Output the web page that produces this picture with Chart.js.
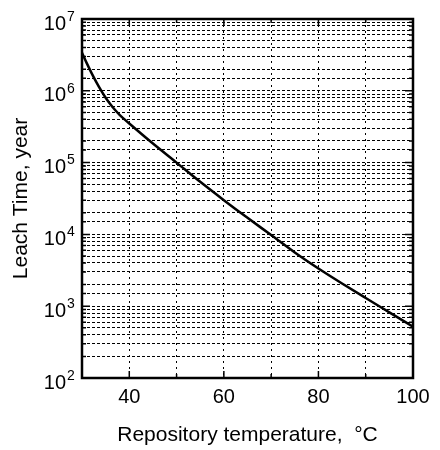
<!DOCTYPE html>
<html>
<head>
<meta charset="utf-8">
<script src="https://cdn.jsdelivr.net/npm/chart.js@4/dist/chart.umd.min.js"></script>
<style>
  html, body { margin: 0; padding: 0; background: #fff; }
  #wrap { width: 440px; height: 450px; }
</style>
</head>
<body>
<div id="wrap"><canvas id="leach" width="440" height="450"></canvas></div>
<script>
// ------- Data -------
const temperatures = [30, 31, 32, 33, 34, 35, 36, 37, 38, 39, 40, 45, 50, 55, 60, 65, 70, 75, 80, 85, 90, 95, 100];
const leachYears = [3.39e6, 2.43e6, 1.78e6, 1.33e6, 1.02e6, 8.0e5, 6.5e5, 5.4e5, 4.6e5, 4.0e5, 3.5e5, 1.84e5, 1.0e5, 5.4e4, 3.0e4, 1.7e4, 9.8e3, 5.6e3, 3.35e3, 2.07e3, 1.3e3, 822, 519];
const xTickLabels = [40, 60, 80, 100];
const yDecadeExponents = [2, 3, 4, 5, 6, 7];

const FONT = '"Liberation Sans", Arial, Helvetica, sans-serif';

function isDecade(v) {
  const l = Math.log10(v);
  return Math.abs(l - Math.round(l)) < 1e-9;
}

// frame, inward tick marks and 10^n labels
const framePlugin = {
  id: 'frame',
  afterDraw(chart) {
    const { ctx, chartArea: a, scales } = chart;
    const xs = scales.x, ys = scales.y;
    ctx.save();
    ctx.strokeStyle = '#000';
    ctx.lineWidth = 1.5;
    ctx.beginPath();
    ys.ticks.forEach(t => {
      const py = ys.getPixelForValue(t.value);
      const len = isDecade(t.value) ? 8 : 4;
      ctx.moveTo(a.left, py); ctx.lineTo(a.left + len, py);
      ctx.moveTo(a.right, py); ctx.lineTo(a.right - len, py);
    });
    xs.ticks.forEach(t => {
      const px = xs.getPixelForValue(t.value);
      const len = xTickLabels.includes(t.value) ? 7 : 4;
      ctx.moveTo(px, a.bottom); ctx.lineTo(px, a.bottom - len);
      ctx.moveTo(px, a.top); ctx.lineTo(px, a.top + len);
    });
    ctx.stroke();

    ctx.lineWidth = 2.5;
    ctx.strokeRect(a.left, a.top, a.right - a.left, a.bottom - a.top);

    ctx.fillStyle = '#000';
    ctx.textBaseline = 'middle';
    yDecadeExponents.forEach(e => {
      const py = ys.getPixelForValue(Math.pow(10, e));
      ctx.font = '20px ' + FONT;
      ctx.textAlign = 'right';
      ctx.fillText('10', 66, py + 5);
      ctx.font = '14px ' + FONT;
      ctx.textAlign = 'left';
      ctx.fillText(String(e), 67, py - 2);
    });
    ctx.restore();
  }
};

const points = temperatures.map((t, i) => ({ x: t, y: leachYears[i] }));

new Chart(document.getElementById('leach').getContext('2d'), {
  type: 'scatter',
  data: {
    datasets: [{
      data: points,
      showLine: true,
      borderColor: '#000',
      borderWidth: 2.5,
      pointRadius: 0,
      cubicInterpolationMode: 'monotone',
      fill: false
    }]
  },
  options: {
    responsive: false,
    animation: false,
    layout: { padding: { top: 19, right: 27, left: 0, bottom: 0 } },
    plugins: { legend: { display: false }, tooltip: { enabled: false } },
    scales: {
      x: {
        type: 'linear',
        min: 30,
        max: 100,
        afterFit: s => { s.height = 72; },
        ticks: {
          stepSize: 10,
          padding: 7,
          color: '#000',
          font: { family: FONT, size: 20 },
          maxRotation: 0,
          autoSkip: false,
          callback: v => xTickLabels.includes(v) ? String(v) : ''
        },
        grid: { color: '#000', lineWidth: 1, drawTicks: false },
        border: { display: false, dash: [2, 4] },
        title: {
          display: true,
          text: 'Repository temperature,  °C',
          color: '#000',
          font: { family: FONT, size: 21 },
          padding: { top: 0, bottom: 2 }
        }
      },
      y: {
        type: 'logarithmic',
        min: 100,
        max: 1e7,
        afterFit: s => { s.width = 82; },
        ticks: { display: false, autoSkip: false },
        grid: { color: '#000', lineWidth: 1, drawTicks: false },
        border: { display: false, dash: [3, 2] },
        title: {
          display: true,
          text: 'Leach Time, year',
          color: '#000',
          font: { family: FONT, size: 21 },
          padding: { top: 9, bottom: 0 }
        }
      }
    }
  },
  plugins: [framePlugin]
});
</script>
</body>
</html>
